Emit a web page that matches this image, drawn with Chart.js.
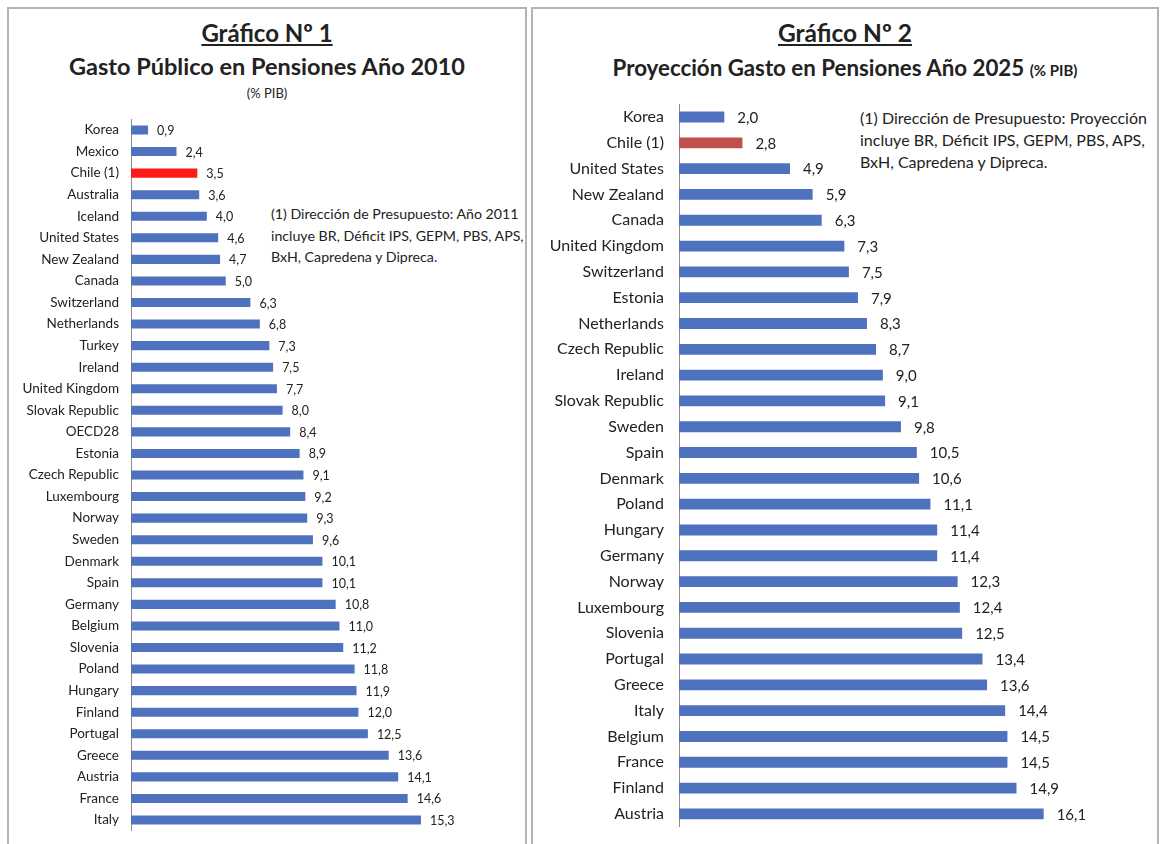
<!DOCTYPE html>
<html>
<head>
<meta charset="utf-8">
<script src="https://cdn.jsdelivr.net/npm/chart.js@4.4.0/dist/chart.umd.min.js"></script>
<style>
  body { margin: 0; background: #fff; font-family: Lato, "Open Sans", sans-serif; color: #222; overflow: hidden; }
  .panel { position: absolute; top: 7px; height: 850px; border: 2px solid #b4b4b4; box-sizing: border-box; }
  .t { position: absolute; text-align: center; font-weight: bold; white-space: nowrap; }
  .note { position: absolute; color: #222; white-space: nowrap; }
  canvas { position: absolute; }
</style>
</head>
<body>
<div class="panel" style="left:7px;width:520px"></div>
<div class="panel" style="left:531px;width:628px"></div>

<div class="t" style="left:7px;width:520px;top:19px;font-size:24px;line-height:28px;text-decoration:underline">Gráfico Nº 1</div>
<div class="t" style="left:7px;width:520px;top:52px;font-size:23.5px;line-height:28px">Gasto Público en Pensiones Año 2010</div>
<div class="t" style="left:7px;width:520px;top:85px;font-size:13px;line-height:16px;font-weight:normal">(% PIB)</div>
<div class="note" style="left:271px;top:203px;font-size:14.2px;line-height:21.5px">(1) Dirección de Presupuesto: Año 2011<br>incluye BR, Déficit IPS, GEPM, PBS, APS,<br>BxH, Capredena y Dipreca.</div>

<div class="t" style="left:531px;width:628px;top:19px;font-size:24.5px;line-height:28px;text-decoration:underline">Gráfico Nº 2</div>
<div class="t" style="left:531px;width:628px;top:55px;font-size:22.3px;line-height:26px">Proyección Gasto en Pensiones Año 2025 <span style="font-size:15px">(% PIB)</span></div>
<div class="note" style="left:860px;top:107px;font-size:16px;line-height:22px">(1) Dirección de Presupuesto: Proyección<br>incluye BR, Déficit IPS, GEPM, PBS, APS,<br>BxH, Capredena y Dipreca.</div>

<canvas id="c1" width="518" height="734" style="left:8px;top:110px"></canvas>
<canvas id="c2" width="622" height="749" style="left:534px;top:95px"></canvas>

<script>
var paises2010 = ["Korea", "Mexico", "Chile (1)", "Australia", "Iceland", "United States", "New Zealand", "Canada",
  "Switzerland", "Netherlands", "Turkey", "Ireland", "United Kingdom", "Slovak Republic", "OECD28", "Estonia",
  "Czech Republic", "Luxembourg", "Norway", "Sweden", "Denmark", "Spain", "Germany", "Belgium", "Slovenia",
  "Poland", "Hungary", "Finland", "Portugal", "Greece", "Austria", "France", "Italy"];
var gasto2010 = [0.9, 2.4, 3.5, 3.6, 4.0, 4.6, 4.7, 5.0, 6.3, 6.8, 7.3, 7.5, 7.7, 8.0, 8.4, 8.9,
  9.1, 9.2, 9.3, 9.6, 10.1, 10.1, 10.8, 11.0, 11.2, 11.8, 11.9, 12.0, 12.5, 13.6, 14.1, 14.6, 15.3];

var paises2025 = ["Korea", "Chile (1)", "United States", "New Zealand", "Canada", "United Kingdom", "Switzerland",
  "Estonia", "Netherlands", "Czech Republic", "Ireland", "Slovak Republic", "Sweden", "Spain", "Denmark",
  "Poland", "Hungary", "Germany", "Norway", "Luxembourg", "Slovenia", "Portugal", "Greece", "Italy",
  "Belgium", "France", "Finland", "Austria"];
var gasto2025 = [2.0, 2.8, 4.9, 5.9, 6.3, 7.3, 7.5, 7.9, 8.3, 8.7, 9.0, 9.1, 9.8, 10.5, 10.6,
  11.1, 11.4, 11.4, 12.3, 12.4, 12.5, 13.4, 13.6, 14.4, 14.5, 14.5, 14.9, 16.1];

var azul = "#4f72be";

// etiquetas de valor al final de cada barra
var etiquetas = {
  id: "etiquetas",
  afterDatasetsDraw: function(chart, args, opts) {
    var ctx = chart.ctx;
    var meta = chart.getDatasetMeta(0);
    ctx.save();
    ctx.font = opts.size + "px Lato, 'Open Sans', sans-serif";
    ctx.fillStyle = "#222";
    ctx.textBaseline = "middle";
    meta.data.forEach(function(bar, i) {
      var v = chart.data.datasets[0].data[i];
      ctx.fillText(v.toFixed(1).replace(".", ","), bar.x + opts.gap, bar.y + 1);
    });
    ctx.restore();
  }
};

function grafico(id, labels, data, chileColor, yWidth, pad, fontSize, tickPad, valSize, gap) {
  var colores = labels.map(function(l) { return l == "Chile (1)" ? chileColor : azul; });
  return new Chart(document.getElementById(id), {
    type: "bar",
    data: { labels: labels, datasets: [{ data: data, backgroundColor: colores, barPercentage: 0.42, categoryPercentage: 1 }] },
    options: {
      indexAxis: "y",
      responsive: false,
      animation: false,
      layout: { padding: pad },
      plugins: { legend: { display: false }, tooltip: { enabled: false }, etiquetas: { size: valSize, gap: gap } },
      scales: {
        x: { display: false, min: 0, max: 20 },
        y: {
          grid: { display: false },
          border: { color: "#8c8c8c", width: 1 },
          ticks: { color: "#222", font: { family: "Lato, 'Open Sans', sans-serif", size: fontSize }, padding: tickPad, autoSkip: false },
          afterFit: function(s) { s.width = yWidth; s.paddingTop = 0; s.paddingBottom = 0; }
        }
      }
    },
    plugins: [etiquetas]
  });
}

grafico("c1", paises2010, gasto2010, "#ff1a1a", 123, { left: 0, right: 16, top: 9.2, bottom: 13.2 }, 13.5, 4, 12.5, 9);
grafico("c2", paises2025, gasto2025, "#c0504d", 145, { left: 0, right: 24, top: 9.1, bottom: 17.2 }, 16, 7, 15, 13);
</script>
</body>
</html>
